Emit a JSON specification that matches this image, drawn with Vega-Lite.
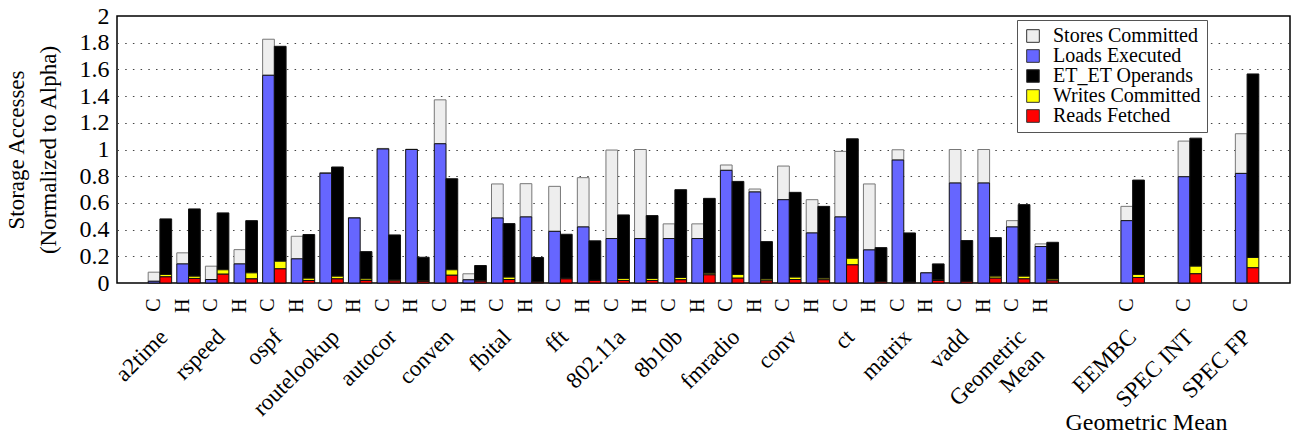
{
  "$schema": "https://vega.github.io/schema/vega-lite/v6.json",
  "autosize": {"type": "none"},
  "padding": {"left": 117, "top": 16, "right": 1, "bottom": 151},
  "width": 1173,
  "height": 267,
  "config": {
    "font": "Liberation Serif",
    "view": {"stroke": "#000", "strokeWidth": 1.5},
    "axis": {"titleFontWeight": "normal", "labelColor": "#000", "titleColor": "#000"}
  },
  "datasets": {
    "acc": [
      {"slot": "a2time C", "st": 0.068, "ld": 0.013, "et": 0.416, "wr": 0.018, "rd": 0.046},
      {"slot": "a2time H", "st": 0.083, "ld": 0.143, "et": 0.504, "wr": 0.017, "rd": 0.034},
      {"slot": "rspeed C", "st": 0.100, "ld": 0.026, "et": 0.426, "wr": 0.033, "rd": 0.066},
      {"slot": "rspeed H", "st": 0.107, "ld": 0.143, "et": 0.391, "wr": 0.045, "rd": 0.031},
      {"slot": "ospf C", "st": 0.270, "ld": 1.556, "et": 1.610, "wr": 0.057, "rd": 0.106},
      {"slot": "ospf H", "st": 0.169, "ld": 0.181, "et": 0.327, "wr": 0.017, "rd": 0.019},
      {"slot": "routelookup C", "st": 0.004, "ld": 0.822, "et": 0.818, "wr": 0.020, "rd": 0.031},
      {"slot": "routelookup H", "st": 0.003, "ld": 0.487, "et": 0.204, "wr": 0.012, "rd": 0.019},
      {"slot": "autocor C", "st": 0.004, "ld": 1.004, "et": 0.334, "wr": 0.010, "rd": 0.016},
      {"slot": "autocor H", "st": 0.002, "ld": 1.000, "et": 0.177, "wr": 0.004, "rd": 0.012},
      {"slot": "conven C", "st": 0.329, "ld": 1.043, "et": 0.682, "wr": 0.041, "rd": 0.058},
      {"slot": "conven H", "st": 0.045, "ld": 0.024, "et": 0.114, "wr": 0.004, "rd": 0.013},
      {"slot": "fbital C", "st": 0.255, "ld": 0.487, "et": 0.401, "wr": 0.018, "rd": 0.026},
      {"slot": "fbital H", "st": 0.249, "ld": 0.495, "et": 0.183, "wr": 0.002, "rd": 0.006},
      {"slot": "fft C", "st": 0.337, "ld": 0.387, "et": 0.329, "wr": 0.005, "rd": 0.031},
      {"slot": "fft H", "st": 0.369, "ld": 0.420, "et": 0.295, "wr": 0.002, "rd": 0.019},
      {"slot": "802.11a C", "st": 0.663, "ld": 0.333, "et": 0.476, "wr": 0.015, "rd": 0.019},
      {"slot": "802.11a H", "st": 0.667, "ld": 0.333, "et": 0.471, "wr": 0.015, "rd": 0.019},
      {"slot": "8b10b C", "st": 0.110, "ld": 0.333, "et": 0.658, "wr": 0.017, "rd": 0.024},
      {"slot": "8b10b H", "st": 0.110, "ld": 0.333, "et": 0.561, "wr": 0.012, "rd": 0.061},
      {"slot": "fmradio C", "st": 0.040, "ld": 0.844, "et": 0.697, "wr": 0.028, "rd": 0.036},
      {"slot": "fmradio H", "st": 0.022, "ld": 0.682, "et": 0.281, "wr": 0.013, "rd": 0.016},
      {"slot": "conv C", "st": 0.252, "ld": 0.624, "et": 0.635, "wr": 0.018, "rd": 0.026},
      {"slot": "conv H", "st": 0.249, "ld": 0.375, "et": 0.538, "wr": 0.012, "rd": 0.024},
      {"slot": "ct C", "st": 0.491, "ld": 0.495, "et": 0.895, "wr": 0.049, "rd": 0.136},
      {"slot": "ct H", "st": 0.494, "ld": 0.248, "et": 0.255, "wr": 0.002, "rd": 0.008},
      {"slot": "matrix C", "st": 0.077, "ld": 0.921, "et": 0.368, "wr": 0.002, "rd": 0.005},
      {"slot": "matrix H", "st": 0.000, "ld": 0.076, "et": 0.119, "wr": 0.005, "rd": 0.019},
      {"slot": "vadd C", "st": 0.251, "ld": 0.749, "et": 0.305, "wr": 0.003, "rd": 0.010},
      {"slot": "vadd H", "st": 0.251, "ld": 0.749, "et": 0.289, "wr": 0.015, "rd": 0.036},
      {"slot": "Geometric Mean C", "st": 0.047, "ld": 0.420, "et": 0.536, "wr": 0.020, "rd": 0.031},
      {"slot": "Geometric Mean H", "st": 0.020, "ld": 0.273, "et": 0.276, "wr": 0.013, "rd": 0.016},
      {"slot": "EEMBC C", "st": 0.107, "ld": 0.467, "et": 0.707, "wr": 0.023, "rd": 0.041},
      {"slot": "SPEC INT C", "st": 0.267, "ld": 0.796, "et": 0.959, "wr": 0.057, "rd": 0.069},
      {"slot": "SPEC FP C", "st": 0.297, "ld": 0.821, "et": 1.375, "wr": 0.077, "rd": 0.114}
    ],
    "series": [
      {"key": "st", "series": "Stores Committed", "bar": "L", "order": 2},
      {"key": "ld", "series": "Loads Executed", "bar": "L", "order": 1},
      {"key": "et", "series": "ET_ET Operands", "bar": "R", "order": 3},
      {"key": "wr", "series": "Writes Committed", "bar": "R", "order": 2},
      {"key": "rd", "series": "Reads Fetched", "bar": "R", "order": 1}
    ]
  },
  "data": {"name": "acc"},
  "transform": [
    {"fold": ["st", "ld", "et", "wr", "rd"], "as": ["key", "v"]},
    {"lookup": "key", "from": {"data": {"name": "series"}, "key": "key", "fields": ["series", "bar", "order"]}}
  ],
  "encoding": {
    "xOffset": {"field": "bar", "type": "nominal", "scale": {"domain": ["L", "R"], "paddingInner": 0, "paddingOuter": 0}},
    "y": {
      "field": "v", "type": "quantitative", "stack": "zero",
      "scale": {"domain": [0, 2], "nice": false},
      "axis": {
        "title": ["Storage Accesses", "(Normalized to Alpha)"],
        "titleFontSize": 23, "titleLineHeight": 32, "titlePadding": 19,
        "values": [0, 0.2, 0.4, 0.6, 0.8, 1, 1.2, 1.4, 1.6, 1.8, 2],
        "format": "~g", "labelFontSize": 24, "labelPadding": 8, "labelOverlap": false,
        "domain": false, "ticks": false,
        "grid": true, "gridColor": "#444", "gridDash": [1.5, 6.2], "gridWidth": 1.2,
        "gridOpacity": {"condition": {"test": "datum.value == 0 || datum.value == 2", "value": 0}, "value": 1}
      }
    },
    "color": {
      "field": "series", "type": "nominal",
      "scale": {"domain": ["Stores Committed", "Loads Executed", "ET_ET Operands", "Writes Committed", "Reads Fetched"], "range": ["#eeeeee", "#6666ff", "#000000", "#ffff00", "#ff0000"]},
      "legend": {
        "title": null, "orient": "none", "legendX": 900, "legendY": 4,
        "labelFontSize": 20, "labelOffset": 10, "labelLimit": 400, "symbolType": "square", "symbolSize": 160,
        "symbolStrokeColor": "#333", "symbolStrokeWidth": 1, "rowPadding": -2.5,
        "padding": 6, "strokeColor": "#555", "fillColor": "#fff", "labelColor": "#000"
      }
    },
    "order": {"field": "order", "type": "quantitative"}
  },
  "layer": [
    {
      "transform": [{"filter": "datum.bar == 'L'"}],
      "mark": {"type": "bar", "strokeWidth": 1},
      "encoding": {
        "x": {
          "field": "slot", "type": "nominal",
          "scale": {"domain": ["_0","a2time C","a2time H","rspeed C","rspeed H","ospf C","ospf H","routelookup C","routelookup H","autocor C","autocor H","conven C","conven H","fbital C","fbital H","fft C","fft H","802.11a C","802.11a H","8b10b C","8b10b H","fmradio C","fmradio H","conv C","conv H","ct C","ct H","matrix C","matrix H","vadd C","vadd H","Geometric Mean C","Geometric Mean H","_1","_2","EEMBC C","_3","SPEC INT C","_4","SPEC FP C","_5"], "paddingInner": 0.18, "paddingOuter": 0.09},
          "axis": {
            "orient": "bottom", "title": null, "domain": false, "ticks": false, "grid": false,
            "labelAngle": -90, "labelAlign": "right", "labelBaseline": "alphabetic",
            "labelPadding": 15, "labelFontSize": 20,
            "labelExpr": "indexof(datum.value, '_') == 0 ? '' : slice(datum.value, -1)"
          }
        },
        "stroke": {"condition": {"test": "datum.series == 'Stores Committed'", "value": "#777"}, "value": "#111"}
      }
    },
    {
      "transform": [{"filter": "datum.bar == 'R'"}],
      "mark": {"type": "bar", "strokeWidth": 1, "stroke": "#111"},
      "encoding": {
        "x": {
          "field": "slot", "type": "nominal",
          "scale": {"domain": ["_0","a2time C","a2time H","rspeed C","rspeed H","ospf C","ospf H","routelookup C","routelookup H","autocor C","autocor H","conven C","conven H","fbital C","fbital H","fft C","fft H","802.11a C","802.11a H","8b10b C","8b10b H","fmradio C","fmradio H","conv C","conv H","ct C","ct H","matrix C","matrix H","vadd C","vadd H","Geometric Mean C","Geometric Mean H","_1","_2","EEMBC C","_3","SPEC INT C","_4","SPEC FP C","_5"], "paddingInner": 0.18, "paddingOuter": 0.09},
          "axis": {
            "orient": "bottom", "domain": false, "ticks": false, "grid": false,
            "labelAngle": -45, "labelAlign": "right", "labelBaseline": "middle",
            "labelPadding": 50, "labelFontSize": 23, "labelLineHeight": 26,
            "labelOffset": {"condition": {"test": "indexof(['EEMBC C', 'SPEC INT C', 'SPEC FP C'], datum.value) >= 0", "value": 0}, "value": 4},
            "labelExpr": "slice(datum.value, -2) == ' C' ? (datum.value == 'Geometric Mean C' ? ['Geometric', 'Mean'] : slice(datum.value, 0, -2)) : ''",
            "title": "Geometric Mean", "titleFontSize": 24, "titleX": 1029, "titleY": 146,
            "titleAlign": "center", "titleBaseline": "alphabetic", "titleFontWeight": "normal"
          }
        }
      }
    }
  ],
  "resolve": {"scale": {"x": "independent", "xOffset": "independent"}, "axis": {"x": "independent"}}
}
